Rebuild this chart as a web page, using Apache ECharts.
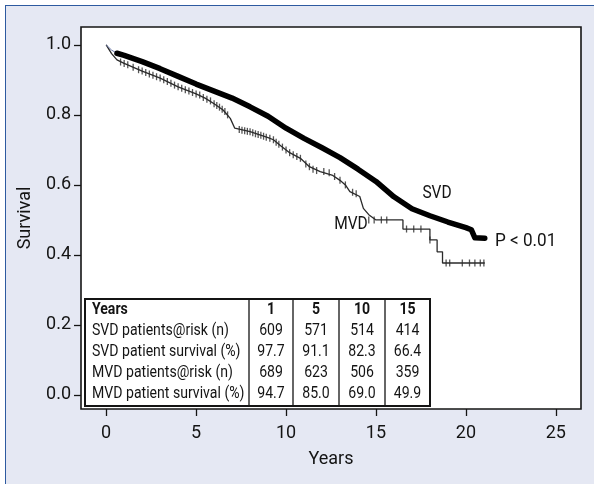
<!DOCTYPE html>
<html>
<head>
<meta charset="utf-8">
<script src="https://cdn.jsdelivr.net/npm/echarts@6/dist/echarts.min.js"></script>
<style>
  html, body { margin: 0; padding: 0; background: #ffffff; width: 594px; height: 484px; overflow: hidden; }
  #frame { position: absolute; left: 5px; top: 5px; width: 620px; height: 500px; background: #e5e8f3; border-left: 1.5px solid #2d5aa0; border-top: 1.5px solid #2d5aa0; }
  #chart { position: absolute; left: 0; top: 0; width: 594px; height: 484px; }
</style>
</head>
<body>
<div id="frame"></div>
<div id="chart"></div>
<script>
// ---- data ----
const xTickValues = [0, 5, 10, 15, 20, 25];
const yTickValues = [0, 0.2, 0.4, 0.6, 0.8, 1.0];

const svdLeadTime = [0, 0.3, 0.6];
const svdLeadSurv = [1.0, 0.985, 0.976];

const svdTime = [0.6, 1, 2, 3, 4, 5, 6, 7, 8, 9, 10, 11, 12, 13, 14, 15, 16, 17, 18, 19, 20, 20.3, 20.5, 21.05];
const svdSurv = [0.976, 0.970, 0.952, 0.932, 0.910, 0.888, 0.868, 0.848, 0.823, 0.796, 0.762, 0.733, 0.706, 0.678, 0.645, 0.610, 0.566, 0.532, 0.512, 0.494, 0.478, 0.472, 0.449, 0.448];

const mvdTime = [0, 0.3, 0.6, 1, 2, 3, 4, 5, 5.5, 6, 6.5, 6.9, 7.15, 8, 9, 9.3, 9.7, 10.2, 10.8, 11.3, 11.9, 12.6, 13.0, 13.3, 13.55, 14.1, 14.3, 14.6, 15.0, 16.5, 16.5, 18.0, 18.0, 18.4, 18.4, 18.7, 18.7, 21.05];
const mvdSurv = [1.0, 0.975, 0.957, 0.947, 0.925, 0.905, 0.88, 0.86, 0.848, 0.832, 0.814, 0.79, 0.762, 0.752, 0.735, 0.729, 0.712, 0.692, 0.676, 0.652, 0.638, 0.627, 0.613, 0.60, 0.581, 0.567, 0.533, 0.515, 0.50, 0.50, 0.474, 0.474, 0.443, 0.443, 0.409, 0.409, 0.377, 0.377];

const mvdCensorTime = [0.8, 1.0, 1.2, 1.5, 1.8, 2.0, 2.2, 2.4, 2.6, 2.8, 3.0, 3.2, 3.4, 3.6, 3.8, 4.0, 4.2, 4.4, 4.6, 4.8, 5.0, 5.2, 5.4, 5.6, 5.8, 6.0, 6.15, 6.3, 6.45, 6.6, 6.75, 7.4, 7.55, 7.7, 7.85, 8.0, 8.15, 8.3, 8.45, 8.6, 8.75, 8.9, 9.1, 9.3, 9.45, 9.6, 9.8, 10.0, 10.2, 10.4, 10.6, 10.8, 11.1, 11.3, 11.5, 11.7, 12.1, 12.4, 12.7, 13.0, 13.3, 13.7, 13.9, 14.6, 14.9, 15.3, 15.6, 16.7, 17.1, 17.5, 18.0, 18.9, 19.1, 19.8, 20.2, 20.5, 20.8, 21.0];
const mvdCensorSurv = [0.951, 0.947, 0.943, 0.936, 0.929, 0.925, 0.921, 0.917, 0.913, 0.909, 0.905, 0.90, 0.895, 0.89, 0.885, 0.88, 0.876, 0.872, 0.868, 0.864, 0.86, 0.857, 0.85, 0.845, 0.84, 0.832, 0.827, 0.822, 0.816, 0.81, 0.80, 0.758, 0.756, 0.755, 0.753, 0.752, 0.749, 0.746, 0.744, 0.742, 0.739, 0.736, 0.733, 0.729, 0.722, 0.716, 0.708, 0.70, 0.692, 0.686, 0.681, 0.676, 0.66, 0.652, 0.645, 0.641, 0.638, 0.635, 0.624, 0.613, 0.60, 0.579, 0.575, 0.50, 0.50, 0.50, 0.50, 0.474, 0.474, 0.474, 0.443, 0.377, 0.377, 0.377, 0.377, 0.377, 0.377, 0.377];

const tableHeader = ['Years', '1', '5', '10', '15'];
const tableRowLabels = ['SVD patients@risk (n)', 'SVD patient survival (%)', 'MVD patients@risk (n)', 'MVD patient survival (%)'];
const svdAtRisk = ['609', '571', '514', '414'];
const svdSurvPct = ['97.7', '91.1', '82.3', '66.4'];
const mvdAtRisk = ['689', '623', '506', '359'];
const mvdSurvPct = ['94.7', '85.0', '69.0', '49.9'];

// ---- helpers ----
function zip(a, b) { return a.map((v, i) => [v, b[i]]); }
const FONT = "Roboto, 'Liberation Sans', sans-serif";
const INK = '#141414';
const NARROW = 0.88;

// ---- table graphic ----
const tLeft = 85, tTop = 299, tBottom = 406;
const colEdges = [85, 249, 293, 339, 385, 430];
const rowCenters = [309.5, 330.5, 351.5, 372.5, 393.5];
const tableBody = [svdAtRisk, svdSurvPct, mvdAtRisk, mvdSurvPct];
const graphics = [];
function txt(x, y, s, font, align, sx) {
  graphics.push({ type: 'text', z: 52, x: x, y: y, scaleX: sx, scaleY: 1,
    style: { text: s, font: font, fill: INK, verticalAlign: 'middle', align: align } });
}
graphics.push({ type: 'rect', z: 50, shape: { x: tLeft, y: tTop, width: colEdges[5] - tLeft, height: tBottom - tTop },
  style: { fill: '#ffffff', stroke: INK, lineWidth: 2 } });
for (let c = 1; c < colEdges.length - 1; c++) {
  graphics.push({ type: 'line', z: 51, shape: { x1: colEdges[c], y1: tTop, x2: colEdges[c], y2: tBottom },
    style: { stroke: INK, lineWidth: 1.3 } });
}
txt(tLeft + 7, rowCenters[0], tableHeader[0], 'bold 16px ' + FONT, 'left', NARROW);
for (let c = 1; c < tableHeader.length; c++) {
  txt((colEdges[c] + colEdges[c + 1]) / 2, rowCenters[0], tableHeader[c], 'bold 16px ' + FONT, 'center', NARROW);
}
for (let r = 0; r < tableRowLabels.length; r++) {
  txt(tLeft + 7, rowCenters[r + 1], tableRowLabels[r], '16px ' + FONT, 'left', NARROW);
  for (let c = 0; c < 4; c++) {
    txt((colEdges[c + 1] + colEdges[c + 2]) / 2, rowCenters[r + 1], tableBody[r][c], '16px ' + FONT, 'center', NARROW);
  }
}
// curve labels
txt(437, 193, 'SVD', '18px ' + FONT, 'center', 0.86);
txt(351, 224, 'MVD', '18px ' + FONT, 'center', 0.86);
txt(495, 241, 'P < 0.01', '18px ' + FONT, 'left', 0.95);

const chart = echarts.init(document.getElementById('chart'), null, { renderer: 'canvas' });
chart.setOption({
  backgroundColor: 'transparent',
  animation: false,
  grid: { left: 81, right: 13, top: 27, bottom: 75, show: true, backgroundColor: '#ffffff', borderColor: INK, borderWidth: 1.6 },
  xAxis: {
    type: 'value', min: -1.4, max: 26.4,
    axisLine: { show: false, onZero: false },
    axisTick: { show: true, customValues: xTickValues, length: 7, lineStyle: { color: INK, width: 1.3 } },
    axisLabel: { customValues: xTickValues, fontSize: 18, fontFamily: FONT, color: INK, margin: 15 },
    splitLine: { show: false },
    name: 'Years', nameLocation: 'middle', nameGap: 41,
    nameTextStyle: { fontSize: 18, fontFamily: FONT, color: INK }
  },
  yAxis: {
    type: 'value', min: -0.04, max: 1.051,
    axisLine: { show: false, onZero: false },
    axisTick: { show: true, customValues: yTickValues, length: 7, lineStyle: { color: INK, width: 1.3 } },
    axisLabel: { customValues: yTickValues, fontSize: 18, fontFamily: FONT, color: INK, margin: 10,
      formatter: v => v.toFixed(1) },
    splitLine: { show: false },
    name: 'Survival', nameLocation: 'middle', nameGap: 47, nameRotate: 90,
    nameTextStyle: { fontSize: 18, fontFamily: FONT, color: INK }
  },
  series: [
    { type: 'line', name: 'MVD', data: zip(mvdTime, mvdSurv), showSymbol: false, z: 3,
      lineStyle: { color: '#2a2a2a', width: 1.3 } },
    { type: 'scatter', name: 'MVD censored', data: zip(mvdCensorTime, mvdCensorSurv), z: 4,
      symbol: 'rect', symbolSize: [1.3, 7], itemStyle: { color: '#2a2a2a' } },
    { type: 'line', name: 'SVD lead', data: zip(svdLeadTime, svdLeadSurv), showSymbol: false, z: 3,
      lineStyle: { color: '#6a78a8', width: 1 } },
    { type: 'line', name: 'SVD', data: zip(svdTime, svdSurv), showSymbol: false, z: 5,
      lineStyle: { color: '#000000', width: 5.5, cap: 'round', join: 'round' } }
  ],
  graphic: graphics
});
</script>
</body>
</html>
